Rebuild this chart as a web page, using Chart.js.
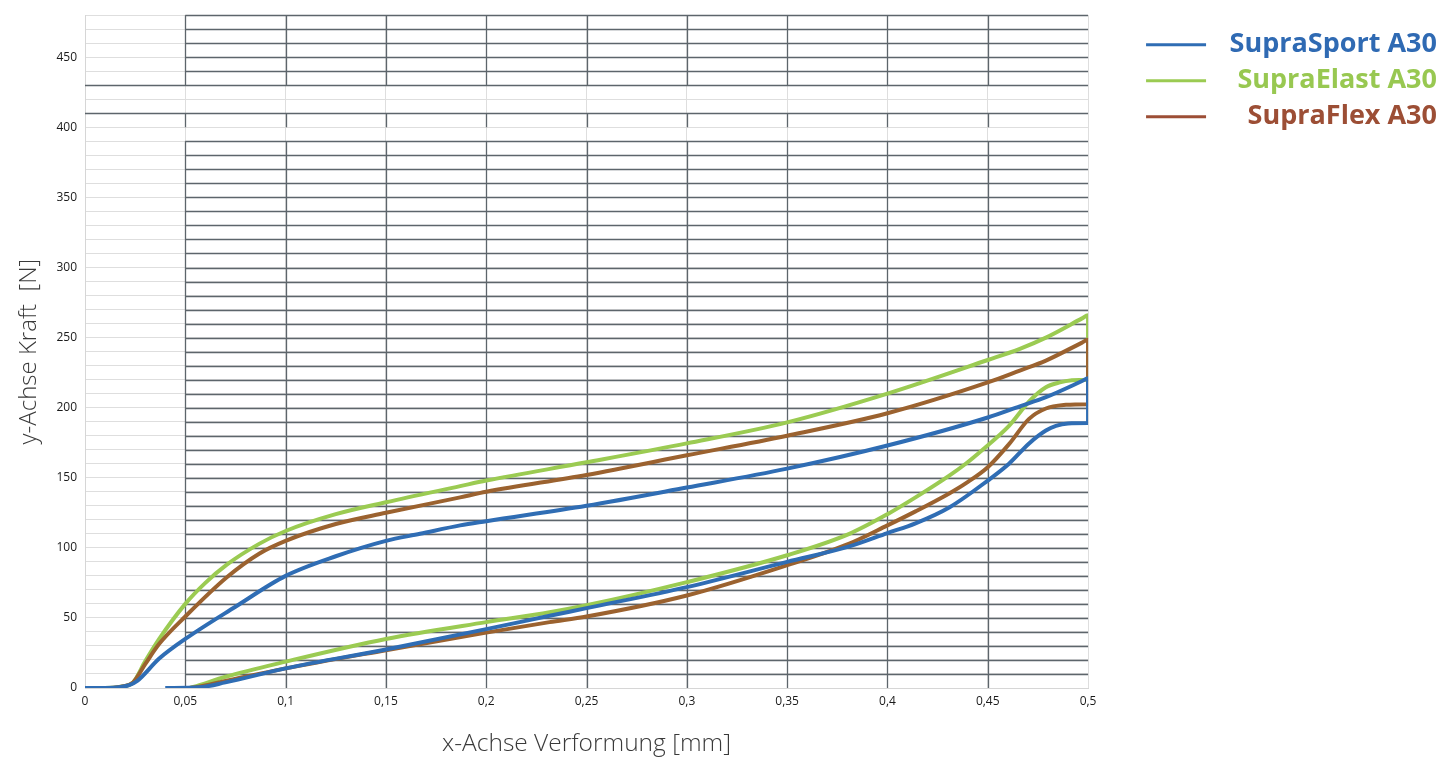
<!DOCTYPE html>
<html>
<head>
<meta charset="utf-8">
<script src="https://cdn.jsdelivr.net/npm/chart.js@4.4.1/dist/chart.umd.min.js"></script>
<style>
  html, body { margin: 0; padding: 0; background: #fff; }
  #wrap { width: 1454px; height: 757px; }
</style>
</head>
<body>
<div id="wrap"><canvas id="chart"></canvas></div>
<script>
// series names, legend order
const seriesNames = ['SupraSport A30', 'SupraElast A30', 'SupraFlex A30'];

// each curve: loading up to 0,5 mm, drop, then unloading back
const sportX = [0, 0.01, 0.017, 0.022, 0.026, 0.037, 0.05, 0.075, 0.1, 0.125, 0.15, 0.167, 0.187, 0.2, 0.25, 0.3, 0.35, 0.4, 0.45, 0.466, 0.479, 0.497, 0.5,
  0.5, 0.49, 0.484, 0.479, 0.4706, 0.4606, 0.45, 0.431, 0.414, 0.4, 0.381, 0.35, 0.3, 0.25, 0.2316, 0.2, 0.15, 0.1, 0.07, 0.057, 0.04];
const sportY = [0, 0, 0.5, 2, 5, 21, 35, 58, 80, 94, 105, 110, 116, 119, 130, 143, 156.5, 173, 193, 201, 207.5, 219, 221,
  189, 188.7, 187, 183.7, 174.5, 160, 148, 129, 117.5, 110.5, 101, 90, 72, 57, 51.5, 42, 27.5, 14, 4, 0.5, 0];

const elastX = [0, 0.01, 0.018, 0.024, 0.03, 0.037, 0.05, 0.06, 0.0707, 0.087, 0.1, 0.125, 0.15, 0.187, 0.2, 0.25, 0.3, 0.35, 0.4, 0.45, 0.466, 0.479, 0.497, 0.5,
  0.5, 0.492, 0.486, 0.479, 0.471, 0.4606, 0.447, 0.439, 0.431, 0.414, 0.4, 0.381, 0.35, 0.3, 0.25, 0.2316, 0.2, 0.15, 0.1, 0.07, 0.054, 0.052];
const elastY = [0, 0, 1, 4, 19, 35, 60, 75, 88, 103, 112, 124, 132.5, 144, 148, 161, 174.5, 189.5, 210, 234, 242, 250, 263.7, 266,
  220, 219.5, 218, 214.6, 205, 187, 169.5, 160, 151.7, 136, 124, 110, 94.7, 75.5, 59, 54, 47, 35, 18.8, 8, 0.7, 0];

const flexX = [0, 0.01, 0.018, 0.024, 0.03, 0.037, 0.05, 0.0707, 0.087, 0.1, 0.125, 0.15, 0.187, 0.2, 0.25, 0.3, 0.35, 0.4, 0.45, 0.466, 0.479, 0.497, 0.5,
  0.5, 0.489, 0.479, 0.4706, 0.4606, 0.45, 0.439, 0.431, 0.414, 0.4, 0.381, 0.35, 0.3, 0.25, 0.2316, 0.2, 0.15, 0.1, 0.07, 0.055, 0.052];
const flexY = [0, 0, 1, 4, 17, 31.5, 51, 79, 96, 105, 117, 125, 136, 140, 152, 166, 180, 196, 218, 226.5, 233.6, 246.4, 248.5,
  202.5, 202, 199.4, 192, 174, 157.5, 146, 139, 126, 116, 103, 87.6, 66, 51, 47, 39.5, 27, 14, 5, 0.5, 0];

// axes
const yLabelled = [0, 50, 100, 150, 200, 250, 300, 350, 400, 450];
const yMax = 480;
const xMax = 0.5;

const lineColors = ['#2f6db4', '#9bcb52', '#9b622f'];
const legendLineColors = ['#2f6db4', '#9bcb52', '#9c4e35'];
const legendTextColors = ['#2f6ab3', '#98c851', '#9c4e35'];

function toPoints(xs, ys) {
  return xs.map((v, i) => ({x: v, y: ys[i]}));
}

// dark grid over the main field, light strip on the left
const darkGrid = {
  id: 'darkGrid',
  beforeDatasetsDraw(chart) {
    const {ctx, scales: {x, y}} = chart;
    ctx.save();
    ctx.strokeStyle = '#5d656b';
    ctx.lineWidth = 1.3;
    ctx.beginPath();
    y.ticks.forEach(t => {
      const v = t.value;
      if (v === 0 || v === 400 || v === 420) return;
      const py = Math.round(y.getPixelForValue(v)) + 0.5;
      const from = (v === 410 || v === 430) ? 0 : 0.05;
      ctx.moveTo(x.getPixelForValue(from), py);
      ctx.lineTo(x.getPixelForValue(xMax), py);
    });
    x.ticks.forEach(t => {
      const u = t.value;
      if (u < 0.04 || u > 0.46) return;
      const px = Math.round(x.getPixelForValue(u)) + 0.5;
      [[0, 390], [400, 410], [430, yMax]].forEach(([a, b]) => {
        ctx.moveTo(px, y.getPixelForValue(a));
        ctx.lineTo(px, y.getPixelForValue(b));
      });
    });
    ctx.stroke();
    ctx.restore();
  }
};

const curves = [
  {label: seriesNames[0], data: toPoints(sportX, sportY), borderColor: lineColors[0]},
  {label: seriesNames[2], data: toPoints(flexX, flexY), borderColor: lineColors[2]},
  {label: seriesNames[1], data: toPoints(elastX, elastY), borderColor: lineColors[1]}
];

new Chart(document.getElementById('chart'), {
  type: 'line',
  data: {
    datasets: curves.map(c => Object.assign(c, {
      borderWidth: 4,
      pointRadius: 0,
      fill: false,
      cubicInterpolationMode: 'monotone'
    }))
  },
  options: {
    responsive: true,
    maintainAspectRatio: false,
    animation: false,
    events: [],
    layout: { padding: {top: 13, right: 17, bottom: 0, left: 0} },
    scales: {
      x: {
        type: 'linear',
        min: 0,
        max: xMax,
        grid: { color: '#dedede', drawTicks: false },
        border: { color: '#d6d6d6' },
        ticks: {
          stepSize: 0.05,
          autoSkip: false,
          maxRotation: 0,
          padding: 6,
          color: '#1a1a1a',
          font: { family: 'Open Sans', size: 12 },
          callback: v => String(Math.round(v * 100) / 100).replace('.', ',')
        },
        title: {
          display: true,
          text: 'x-Achse Verformung [mm]',
          color: '#3a3a3a',
          font: { family: 'Open Sans', size: 24.5, weight: '300', lineHeight: 1 },
          padding: {top: 4, bottom: 1}
        },
        afterFit: s => { s.height = 69; }
      },
      y: {
        min: 0,
        max: yMax,
        grid: { color: '#dedede', drawTicks: false },
        border: { color: '#d6d6d6' },
        ticks: {
          stepSize: 10,
          autoSkip: false,
          padding: 8,
          color: '#1a1a1a',
          font: { family: 'Open Sans', size: 12 },
          callback: v => yLabelled.includes(v) ? String(v) : ''
        },
        title: {
          display: true,
          text: 'y-Achse Kraft  [N]',
          color: '#3a3a3a',
          font: { family: 'Open Sans', size: 24, weight: '300', lineHeight: 1.2 },
          padding: {top: 15, bottom: 0}
        },
        afterFit: s => { s.width = 85; }
      },
      // empty room between plot and legend
      spacer: {
        type: 'linear',
        position: 'right',
        display: false,
        afterFit: s => { s.width = 49; }
      }
    },
    plugins: {
      tooltip: { enabled: false },
      legend: {
        position: 'right',
        align: 'start',
        title: { display: true, text: '', font: {size: 1}, padding: {top: 8, bottom: 0} },
        labels: {
          boxWidth: 60,
          boxHeight: 3,
          padding: 9,
          textAlign: 'right',
          font: { family: 'Open Sans', size: 27, weight: 'bold' },
          generateLabels: () => seriesNames.map((n, i) => ({
            text: n,
            fillStyle: legendLineColors[i],
            strokeStyle: legendLineColors[i],
            lineWidth: 0,
            fontColor: legendTextColors[i],
            hidden: false,
            datasetIndex: i
          }))
        }
      }
    }
  },
  plugins: [darkGrid]
});
</script>
</body>
</html>
